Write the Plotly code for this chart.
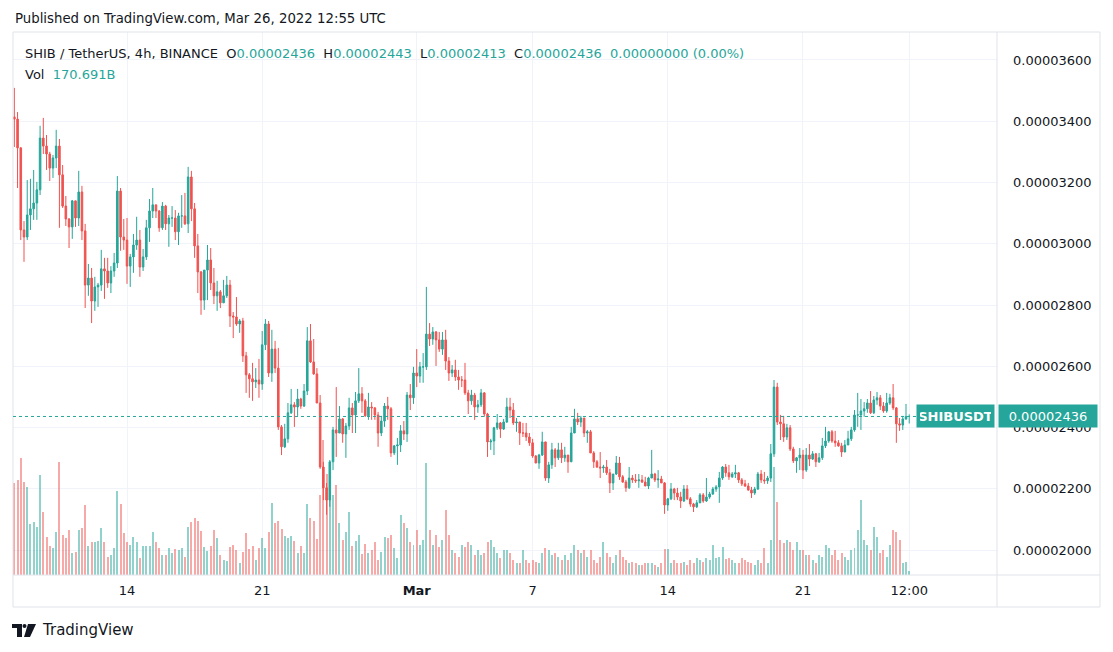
import pandas as pd
import plotly.graph_objects as go

# ---------------- data (prices in units of 1e-8 USDT, volume in billions) ----------------
START = "2022-02-08 04:00"
first_open_e8 = 3414

close_e8 = [
    3407, 3313, 3045, 3022, 3094, 3114, 3133, 3176, 3345, 3319,
    3293, 3247, 3280, 3319, 3225, 3123, 3081, 3055, 3140, 3084,
    3169, 3042, 2865, 2888, 2813, 2859, 2865, 2918, 2911, 2872,
    2911, 2937, 3172, 3022, 3012, 2927, 2957, 2996, 3012, 2924,
    2957, 3052, 3107, 3127, 3107, 3052, 3123, 3065, 3084, 3084,
    3039, 3091, 3091, 3065, 3218, 3114, 2993, 2908, 2816, 2914,
    2947, 2872, 2830, 2843, 2807, 2830, 2865, 2764, 2761, 2738,
    2748, 2634, 2572, 2559, 2549, 2555, 2542, 2670, 2738, 2578,
    2656, 2594, 2402, 2337, 2363, 2448, 2474, 2467, 2493, 2470,
    2519, 2683, 2614, 2575, 2480, 2271, 2203, 2163, 2288, 2392,
    2382, 2428, 2379, 2405, 2464, 2441, 2487, 2510, 2487, 2438,
    2467, 2464, 2441, 2382, 2421, 2470, 2461, 2317, 2340, 2343,
    2389, 2379, 2506, 2497, 2578, 2568, 2598, 2598, 2705, 2689,
    2712, 2686, 2656, 2686, 2617, 2578, 2588, 2565, 2555, 2555,
    2513, 2487, 2506, 2467, 2474, 2513, 2444, 2353, 2356, 2399,
    2415, 2395, 2418, 2467, 2457, 2415, 2418, 2382, 2382, 2369,
    2350, 2307, 2284, 2310, 2353, 2235, 2278, 2327, 2301, 2327,
    2301, 2310, 2288, 2382, 2428, 2418, 2431, 2382, 2386, 2317,
    2288, 2271, 2268, 2271, 2252, 2219, 2248, 2284, 2239, 2222,
    2203, 2235, 2229, 2226, 2229, 2222, 2209, 2235, 2248, 2229,
    2232, 2219, 2147, 2167, 2199, 2186, 2173, 2160, 2199, 2167,
    2150, 2141, 2154, 2180, 2160, 2173, 2183, 2199, 2206, 2235,
    2271, 2252, 2239, 2248, 2252, 2229, 2216, 2209, 2196, 2186,
    2199, 2248, 2229, 2226, 2235, 2314, 2532, 2418, 2412, 2369,
    2399, 2330, 2291, 2301, 2310, 2261, 2310, 2297, 2314, 2288,
    2301, 2340, 2356, 2386, 2356, 2350, 2340, 2320, 2343, 2363,
    2392, 2441, 2441, 2454, 2461, 2480, 2448, 2490, 2497, 2470,
    2454, 2480, 2497, 2464, 2412, 2408, 2428, 2436, 2436,
]

high_e8 = [
    3509, 3430, 3316, 3074, 3208, 3212, 3241, 3202, 3385, 3411,
    3355, 3300, 3290, 3372, 3342, 3257, 3156, 3084, 3143, 3140,
    3238, 3189, 3065, 2934, 2921, 2892, 2872, 2980, 2954, 2954,
    2927, 2970, 3221, 3182, 3081, 3084, 2967, 3032, 3088, 3045,
    2983, 3078, 3146, 3182, 3127, 3110, 3136, 3127, 3094, 3123,
    3110, 3101, 3159, 3166, 3251, 3238, 3133, 3032, 2911, 2914,
    2996, 2986, 2921, 2879, 2849, 2882, 2895, 2882, 2777, 2826,
    2754, 2758, 2647, 2578, 2611, 2594, 2624, 2715, 2754, 2748,
    2719, 2683, 2660, 2408, 2412, 2480, 2526, 2483, 2526, 2497,
    2542, 2728, 2738, 2689, 2594, 2506, 2288, 2219, 2294, 2402,
    2532, 2470, 2431, 2415, 2497, 2480, 2516, 2594, 2532, 2493,
    2513, 2483, 2467, 2451, 2438, 2480, 2500, 2467, 2343, 2366,
    2408, 2421, 2516, 2542, 2598, 2656, 2614, 2643, 2859, 2741,
    2728, 2715, 2712, 2712, 2719, 2630, 2604, 2621, 2588, 2568,
    2611, 2523, 2523, 2513, 2490, 2526, 2516, 2448, 2363, 2402,
    2444, 2418, 2428, 2497, 2497, 2480, 2431, 2415, 2415, 2415,
    2382, 2363, 2310, 2314, 2386, 2353, 2288, 2350, 2333, 2350,
    2350, 2337, 2310, 2402, 2461, 2448, 2438, 2431, 2392, 2392,
    2323, 2294, 2320, 2278, 2294, 2265, 2248, 2307, 2304, 2245,
    2229, 2271, 2245, 2248, 2248, 2245, 2239, 2239, 2327, 2252,
    2261, 2242, 2222, 2170, 2219, 2203, 2203, 2190, 2212, 2212,
    2173, 2154, 2163, 2186, 2186, 2235, 2190, 2206, 2212, 2255,
    2274, 2281, 2278, 2255, 2278, 2255, 2235, 2229, 2219, 2206,
    2206, 2255, 2261, 2255, 2242, 2346, 2555, 2546, 2441, 2438,
    2412, 2408, 2337, 2304, 2333, 2327, 2333, 2346, 2323, 2317,
    2317, 2366, 2402, 2389, 2392, 2389, 2359, 2350, 2359, 2389,
    2402, 2457, 2513, 2493, 2483, 2493, 2519, 2503, 2516, 2506,
    2483, 2513, 2510, 2542, 2467, 2431, 2438, 2477, 2443,
]

low_e8 = [
    3316, 3182, 3012, 2941, 3012, 3045, 3078, 3078, 3159, 3293,
    3241, 3205, 3215, 3247, 3052, 3117, 3058, 2986, 3016, 3055,
    3058, 3012, 2790, 2830, 2741, 2781, 2794, 2846, 2820, 2856,
    2839, 2892, 2921, 2977, 2980, 2869, 2859, 2905, 2980, 2892,
    2911, 2947, 3006, 3084, 3084, 3039, 3045, 3045, 2990, 3055,
    3012, 2996, 3052, 3061, 3035, 3074, 2954, 2839, 2768, 2784,
    2816, 2849, 2803, 2781, 2790, 2807, 2823, 2728, 2692, 2732,
    2709, 2614, 2513, 2497, 2487, 2529, 2497, 2523, 2653, 2565,
    2549, 2578, 2392, 2310, 2333, 2350, 2444, 2402, 2438, 2461,
    2467, 2506, 2611, 2572, 2480, 2265, 2163, 2115, 2141, 2261,
    2304, 2382, 2350, 2301, 2392, 2382, 2382, 2480, 2448, 2435,
    2425, 2425, 2425, 2337, 2372, 2402, 2425, 2304, 2310, 2278,
    2320, 2359, 2353, 2457, 2477, 2532, 2546, 2546, 2588, 2666,
    2670, 2601, 2647, 2637, 2588, 2552, 2565, 2552, 2523, 2532,
    2506, 2444, 2474, 2425, 2448, 2467, 2435, 2304, 2327, 2310,
    2392, 2366, 2392, 2415, 2431, 2408, 2386, 2343, 2369, 2356,
    2340, 2301, 2284, 2265, 2307, 2226, 2219, 2265, 2271, 2294,
    2284, 2288, 2252, 2288, 2382, 2408, 2402, 2369, 2350, 2317,
    2268, 2268, 2235, 2252, 2245, 2186, 2196, 2245, 2229, 2219,
    2190, 2199, 2219, 2219, 2203, 2219, 2209, 2199, 2235, 2222,
    2203, 2219, 2118, 2128, 2163, 2163, 2163, 2137, 2157, 2163,
    2141, 2124, 2137, 2154, 2154, 2157, 2167, 2180, 2190, 2154,
    2229, 2239, 2229, 2235, 2235, 2219, 2209, 2206, 2193, 2170,
    2180, 2196, 2219, 2216, 2216, 2222, 2304, 2408, 2359, 2353,
    2359, 2323, 2284, 2252, 2261, 2232, 2255, 2274, 2294, 2271,
    2284, 2294, 2333, 2350, 2350, 2337, 2337, 2304, 2320, 2353,
    2356, 2386, 2402, 2392, 2435, 2448, 2444, 2444, 2474, 2457,
    2448, 2448, 2474, 2457, 2350, 2389, 2392, 2425, 2413,
]

volume_b = [
    3680, 3800, 4680, 3720, 3520, 2040, 2120, 1920, 4000, 2520,
    1520, 1160, 1080, 1720, 4520, 1600, 1480, 1800, 880, 920,
    1800, 1880, 2800, 1160, 1320, 1320, 1360, 1880, 1320, 720,
    800, 1080, 3360, 2840, 1680, 1320, 1200, 1520, 1320, 680,
    1160, 1160, 1160, 1720, 1320, 1080, 800, 800, 1080, 880,
    1040, 1000, 1080, 720, 1920, 2120, 2280, 2160, 1760, 1120,
    960, 1160, 1800, 1480, 800, 600, 560, 1120, 1200, 1000,
    480, 920, 1680, 1040, 1160, 600, 1080, 1480, 1080, 1720,
    2880, 2080, 2160, 1840, 1560, 1480, 1560, 1360, 880, 1160,
    880, 2840, 2280, 2160, 1440, 3200, 5400, 4040, 3200, 3200,
    3600, 2080, 1400, 1720, 2520, 1160, 1360, 1600, 840, 1240,
    880, 1000, 1320, 600, 920, 1520, 1480, 1600, 1080, 680,
    2400, 2080, 1880, 1320, 1200, 1800, 1200, 1400, 4480, 1800,
    1200, 1600, 1120, 1400, 2600, 1600, 1000, 880, 720, 1200,
    1120, 1320, 1200, 800, 1000, 800, 880, 1320, 1400, 1120,
    880, 680, 1000, 1000, 880, 600, 480, 480, 1000, 600,
    480, 600, 520, 480, 880, 1080, 1000, 800, 880, 720,
    600, 800, 600, 880, 1200, 1000, 880, 1000, 720, 1000,
    600, 480, 720, 1320, 880, 720, 480, 800, 1000, 720,
    600, 480, 520, 480, 400, 400, 480, 480, 480, 400,
    320, 480, 1040, 1040, 480, 600, 480, 480, 520, 400,
    600, 480, 680, 600, 520, 680, 600, 1200, 680, 720,
    1120, 640, 680, 600, 480, 480, 680, 600, 520, 480,
    400, 600, 480, 1080, 480, 1400, 4320, 2920, 1400, 1280,
    1400, 1320, 1000, 1320, 1000, 1000, 800, 800, 600, 480,
    800, 720, 1200, 1080, 800, 1000, 600, 880, 720, 600,
    1000, 1080, 1800, 3000, 1400, 1200, 1000, 1920, 1520, 880,
    1000, 720, 1200, 1800, 1720, 1400, 480, 520, 170.691,
]

time_tick_vals = ["2022-02-14 00:00", "2022-02-21 00:00", "2022-03-01 00:00", "2022-03-07 00:00",
                  "2022-03-14 00:00", "2022-03-21 00:00", "2022-03-26 12:00"]
time_tick_text = ["14", "21", "<b>Mar</b>", "7", "14", "21", "12:00"]
price_tick_e8 = [2000, 2200, 2400, 2600, 2800, 3000, 3200, 3400, 3600]

# ---------------- build ----------------
UP = "#26a69a"
DOWN = "#ef5350"
UP_VOL = "rgba(38,166,154,0.5)"
DOWN_VOL = "rgba(239,83,80,0.5)"
TEXT = "#131722"
GRID = "#f0f3fa"
FRAME = "#e0e3eb"
FONT = "DejaVu Sans, sans-serif"

E8 = 1e-8
times = pd.date_range(START, periods=len(close_e8), freq="4h")
open_e8 = [first_open_e8] + close_e8[:-1]
o = [v * E8 for v in open_e8]
c = [v * E8 for v in close_e8]
h = [max(a, b, x) * E8 for a, b, x in zip(high_e8, open_e8, close_e8)]
l = [min(a, b, x) * E8 for a, b, x in zip(low_e8, open_e8, close_e8)]
vol_colors = [UP_VOL if cc >= oo else DOWN_VOL for oo, cc in zip(open_e8, close_e8)]

# screen geometry of the pane (page has an 8px body margin)
OFF = 8
PL, PR, PT, PB = 13, 997, 32, 575          # screen pixels
W, H = 1113 - OFF, 652 - OFF               # figure size
pw, ph = PR - PL, PB - PT


def px(xs):
    return (xs - PL) / pw


def py(ys):
    return (PB - ys) / ph


fig = go.Figure()
fig.add_trace(go.Bar(
    x=times, y=volume_b, marker=dict(color=vol_colors, line=dict(width=0)),
    width=4 * 3600 * 1000 * 0.62, yaxis="y", hoverinfo="skip",
))
fig.add_trace(go.Candlestick(
    x=times, open=o, high=h, low=l, close=c, yaxis="y2",
    increasing=dict(line=dict(color=UP, width=1), fillcolor=UP),
    decreasing=dict(line=dict(color=DOWN, width=1), fillcolor=DOWN),
    whiskerwidth=0, hoverinfo="skip",
))

last_o, last_h, last_l, last_c = o[-1], h[-1], l[-1], c[-1]
chg = last_c - last_o
chg_pct = chg / last_o * 100

price_ticktext = [f"{v * E8:.8f}" for v in price_tick_e8]
price_tickvals = [v * E8 for v in price_tick_e8]

fig.update_layout(
    width=W, height=H,
    margin=dict(l=PL - OFF, r=W - (PR - OFF), t=PT - OFF, b=H - (PB - OFF), pad=0),
    paper_bgcolor="white", plot_bgcolor="white",
    showlegend=False, bargap=0,
    font=dict(family=FONT, color=TEXT, size=13),
    xaxis=dict(
        type="date", range=["2022-02-08 02:20", "2022-03-31 01:05"],
        tickvals=time_tick_vals, ticktext=time_tick_text,
        showgrid=True, gridcolor=GRID, gridwidth=1,
        zeroline=False, showline=False, ticks="",
        rangeslider=dict(visible=False), tickfont=dict(size=13, color=TEXT),
        ticklabelstandoff=6, fixedrange=True,
    ),
    yaxis=dict(range=[0, ph * 40], visible=False, fixedrange=True),
    yaxis2=dict(
        overlaying="y", side="right",
        range=[1918.4 * E8, 3691.4 * E8],
        tickvals=price_tickvals, ticktext=price_ticktext,
        showgrid=True, gridcolor=GRID, gridwidth=1,
        zeroline=False, showline=False, ticks="",
        ticklabelstandoff=15, tickfont=dict(size=13, color=TEXT), fixedrange=True,
    ),
)

shapes = [
    # outer frame
    dict(type="rect", xref="paper", yref="paper", x0=px(13), x1=px(1100), y0=py(607), y1=py(32),
         line=dict(color=FRAME, width=1), fillcolor="rgba(0,0,0,0)", layer="above"),
    # price-axis separator
    dict(type="line", xref="paper", yref="paper", x0=px(997), x1=px(997), y0=py(607), y1=py(32),
         line=dict(color=FRAME, width=1), layer="above"),
    # time-axis separator
    dict(type="line", xref="paper", yref="paper", x0=px(13), x1=px(1100), y0=py(575), y1=py(575),
         line=dict(color=FRAME, width=1), layer="above"),
    # last price dotted line
    dict(type="line", xref="paper", yref="y2", x0=0, x1=px(917), y0=last_c, y1=last_c,
         line=dict(color=UP, width=1, dash="dot"), layer="above"),
    # TradingView logo (approximation)
    dict(type="rect", xref="paper", yref="paper", x0=px(12), x1=px(22), y0=py(628), y1=py(624),
         fillcolor=TEXT, line=dict(width=0)),
    dict(type="rect", xref="paper", yref="paper", x0=px(17), x1=px(22), y0=py(637), y1=py(624),
         fillcolor=TEXT, line=dict(width=0)),
    dict(type="circle", xref="paper", yref="paper", x0=px(22.5), x1=px(26.5), y0=py(628), y1=py(624),
         fillcolor=TEXT, line=dict(width=0)),
    dict(type="path", xref="paper", yref="paper",
         path=f"M {px(28)} {py(624)} L {px(36)} {py(624)} L {px(30)} {py(637)} L {px(24)} {py(637)} Z",
         fillcolor=TEXT, line=dict(width=0)),
]

V = lambda s: f"<span style='color:{UP}'>{s}</span>"
NB = "\u00a0"
legend_line = (
    f"SHIB / TetherUS, 4h, BINANCE{NB}{NB}O{V(f'{last_o:.8f}')}{NB}{NB}H{V(f'{last_h:.8f}')}"
    f"{NB}{NB}L{V(f'{last_l:.8f}')}{NB}{NB}C{V(f'{last_c:.8f}')}"
    f"{NB}{NB}{V(f'{chg:.8f} ({chg_pct:.2f}%)')}"
)

annotations = [
    dict(text="Published on TradingView.com, Mar 26, 2022 12:55 UTC", xref="paper", yref="paper",
         x=px(13), y=py(18), xanchor="left", yanchor="middle", showarrow=False,
         font=dict(size=13.3, color=TEXT)),
    dict(text=legend_line, xref="paper", yref="paper", x=px(23), y=py(53),
         xanchor="left", yanchor="middle", showarrow=False, font=dict(size=13, color=TEXT)),
    dict(text=f"Vol{NB}{NB}{V(f'{volume_b[-1]:.3f}B')}", xref="paper", yref="paper", x=px(23), y=py(74),
         xanchor="left", yanchor="middle", showarrow=False, font=dict(size=13, color=TEXT)),
    dict(text="<b>SHIBUSDT</b>", xref="paper", yref="y2", x=px(955.5), y=last_c,
         xanchor="center", yanchor="middle", showarrow=False, bgcolor=UP, borderpad=3,
         width=71, height=16, font=dict(size=13, color="white")),
    dict(text=f"{last_c:.8f}", xref="paper", yref="y2", x=px(1048), y=last_c,
         xanchor="center", yanchor="middle", showarrow=False, bgcolor=UP, borderpad=3,
         width=92, height=16, font=dict(size=13, color="white")),
    dict(text="TradingView", xref="paper", yref="paper", x=px(40), y=py(630),
         xanchor="left", yanchor="middle", showarrow=False, font=dict(size=15, color=TEXT)),
]

fig.update_layout(shapes=shapes, annotations=annotations)
fig.write_html("out.html", config={"displayModeBar": False, "staticPlot": True})
